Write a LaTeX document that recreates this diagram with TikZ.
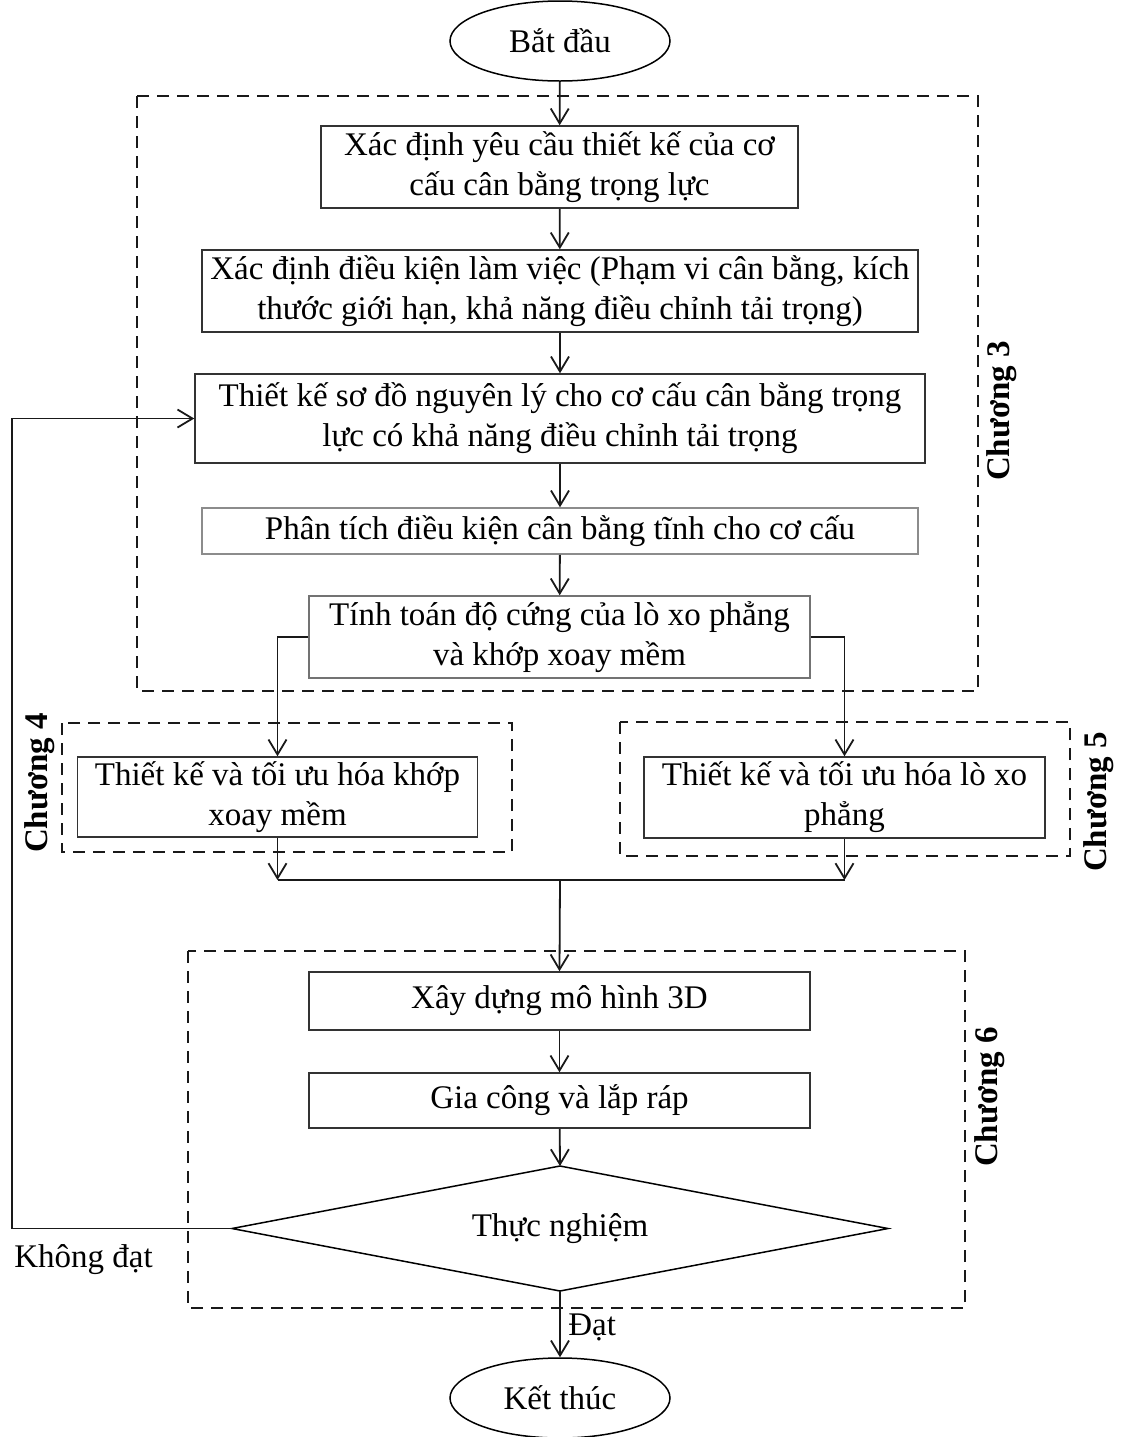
\documentclass[tikz,border=0pt]{standalone}
\usepackage{fontspec}
\setmainfont{Liberation Serif}
\usetikzlibrary{arrows.meta,shapes.geometric}
\begin{document}
\begin{tikzpicture}[x=0.5pt,y=-0.5pt,
  font=\fontsize{16.5}{20}\selectfont,
  box/.style={draw=black!80,line width=0.75pt,rectangle,inner sep=0pt,align=center},
  term/.style={draw=black,line width=0.75pt,ellipse,inner sep=0pt,minimum width=110pt,minimum height=40pt},
  grp/.style={draw=black!90,line width=1.4pt,dash pattern=on 6pt off 4pt},
  arr/.style={draw=black!90,line width=0.9pt,-{Straight Barb[length=7.5pt,width=9pt]}},
  ln/.style={draw=black!90,line width=0.9pt},
  chap/.style={rotate=90,font=\fontsize{16.5}{20}\selectfont\bfseries,inner sep=0pt}
]
\useasboundingbox (0,0) rectangle (1130,1437);
% group frames
\draw[grp] (137,96) rectangle (978,691);
\draw[grp] (62,723) rectangle (512,852);
\draw[grp] (620,722) rectangle (1070,856);
\draw[grp] (188,951) rectangle (965,1308);
% chapter labels
\node[chap] (c3) at (1002,411) {Chương 3};
\node[chap] (c4) at (40,783) {Chương 4};
\node[chap] (c5) at (1099,802) {Chương 5};
\node[chap] (c6) at (990,1097) {Chương 6};
% nodes
\node[term] (start) at (560,41) {Bắt đầu};
\node[box,minimum width=238.5pt,minimum height=41pt] (b1) at (559.5,167) {Xác định yêu cầu thiết kế của cơ\\cấu cân bằng trọng lực};
\node[box,minimum width=358pt,minimum height=41pt] (b2) at (560,291) {Xác định điều kiện làm việc (Phạm vi cân bằng, kích\\thước giới hạn, khả năng điều chỉnh tải trọng)};
\node[box,minimum width=365pt,minimum height=44.5pt] (b3) at (560,418.5) {Thiết kế sơ đồ nguyên lý cho cơ cấu cân bằng trọng\\lực có khả năng điều chỉnh tải trọng};
\node[box,draw=black!45,minimum width=358pt,minimum height=23pt] (b4) at (560,531) {Phân tích điều kiện cân bằng tĩnh cho cơ cấu};
\node[box,draw=black!55,minimum width=250.5pt,minimum height=41pt] (b5) at (559.5,637) {Tính toán độ cứng của lò xo phẳng\\và khớp xoay mềm};
\node[box,minimum width=200pt,minimum height=40pt] (b6) at (277.5,797) {Thiết kế và tối ưu hóa khớp\\xoay mềm};
\node[box,minimum width=200.5pt,minimum height=40.5pt] (b7) at (844.5,797.5) {Thiết kế và tối ưu hóa lò xo\\phẳng};
\node[box,minimum width=250.5pt,minimum height=29pt] (b8) at (559.5,1001) {Xây dựng mô hình 3D};
\node[box,minimum width=250.5pt,minimum height=27.5pt] (b9) at (559.5,1100.5) {Gia công và lắp ráp};
% decision (diamond drawn from its corners)
\coordinate (dtop) at (560,1166);
\coordinate (dbot) at (560,1291);
\coordinate (dleft) at (232,1228.5);
\coordinate (dright) at (888,1228.5);
\draw[draw=black,line width=0.75pt] (dtop) -- (dright) -- (dbot) -- (dleft) -- cycle;
\node[inner sep=0pt] (dia) at (560,1228.5) {Thực nghiệm};
\node[term] (end) at (560,1398) {Kết thúc};
% labels
\node[anchor=west,inner sep=0pt] (kd) at (14,1260) {Không đạt};
\node[anchor=west,inner sep=0pt] (dat) at (568,1327) {Đạt};
% coordinates
\coordinate (join) at (560,880);
\coordinate (jl) at (b6.south |- join);
\coordinate (jr) at (b7.south |- join);
\coordinate (loop) at (12,1228.5);
% connectors
\draw[arr] (start) -- (b1);
\draw[arr] (b1) -- (b2);
\draw[arr] (b2) -- (b3);
\draw[arr] (b3) -- (b4);
\draw[arr] (b4) -- (b5);
\draw[arr] (b5.west) -| (b6.north);
\draw[arr] (b5.east) -| (b7.north);
\draw[arr] (b6.south) -- (jl);
\draw[arr] (b7.south) -- (jr);
\draw[ln] (jl) -- (jr);
\draw[arr] (join) -- (b8.north);
\draw[arr] (b8) -- (b9);
\draw[arr] (b9) -- (dtop);
\draw[arr] (dleft) -- (loop) |- (b3.west);
\draw[arr] (dbot) -- (end.north);
\end{tikzpicture}
\end{document}
